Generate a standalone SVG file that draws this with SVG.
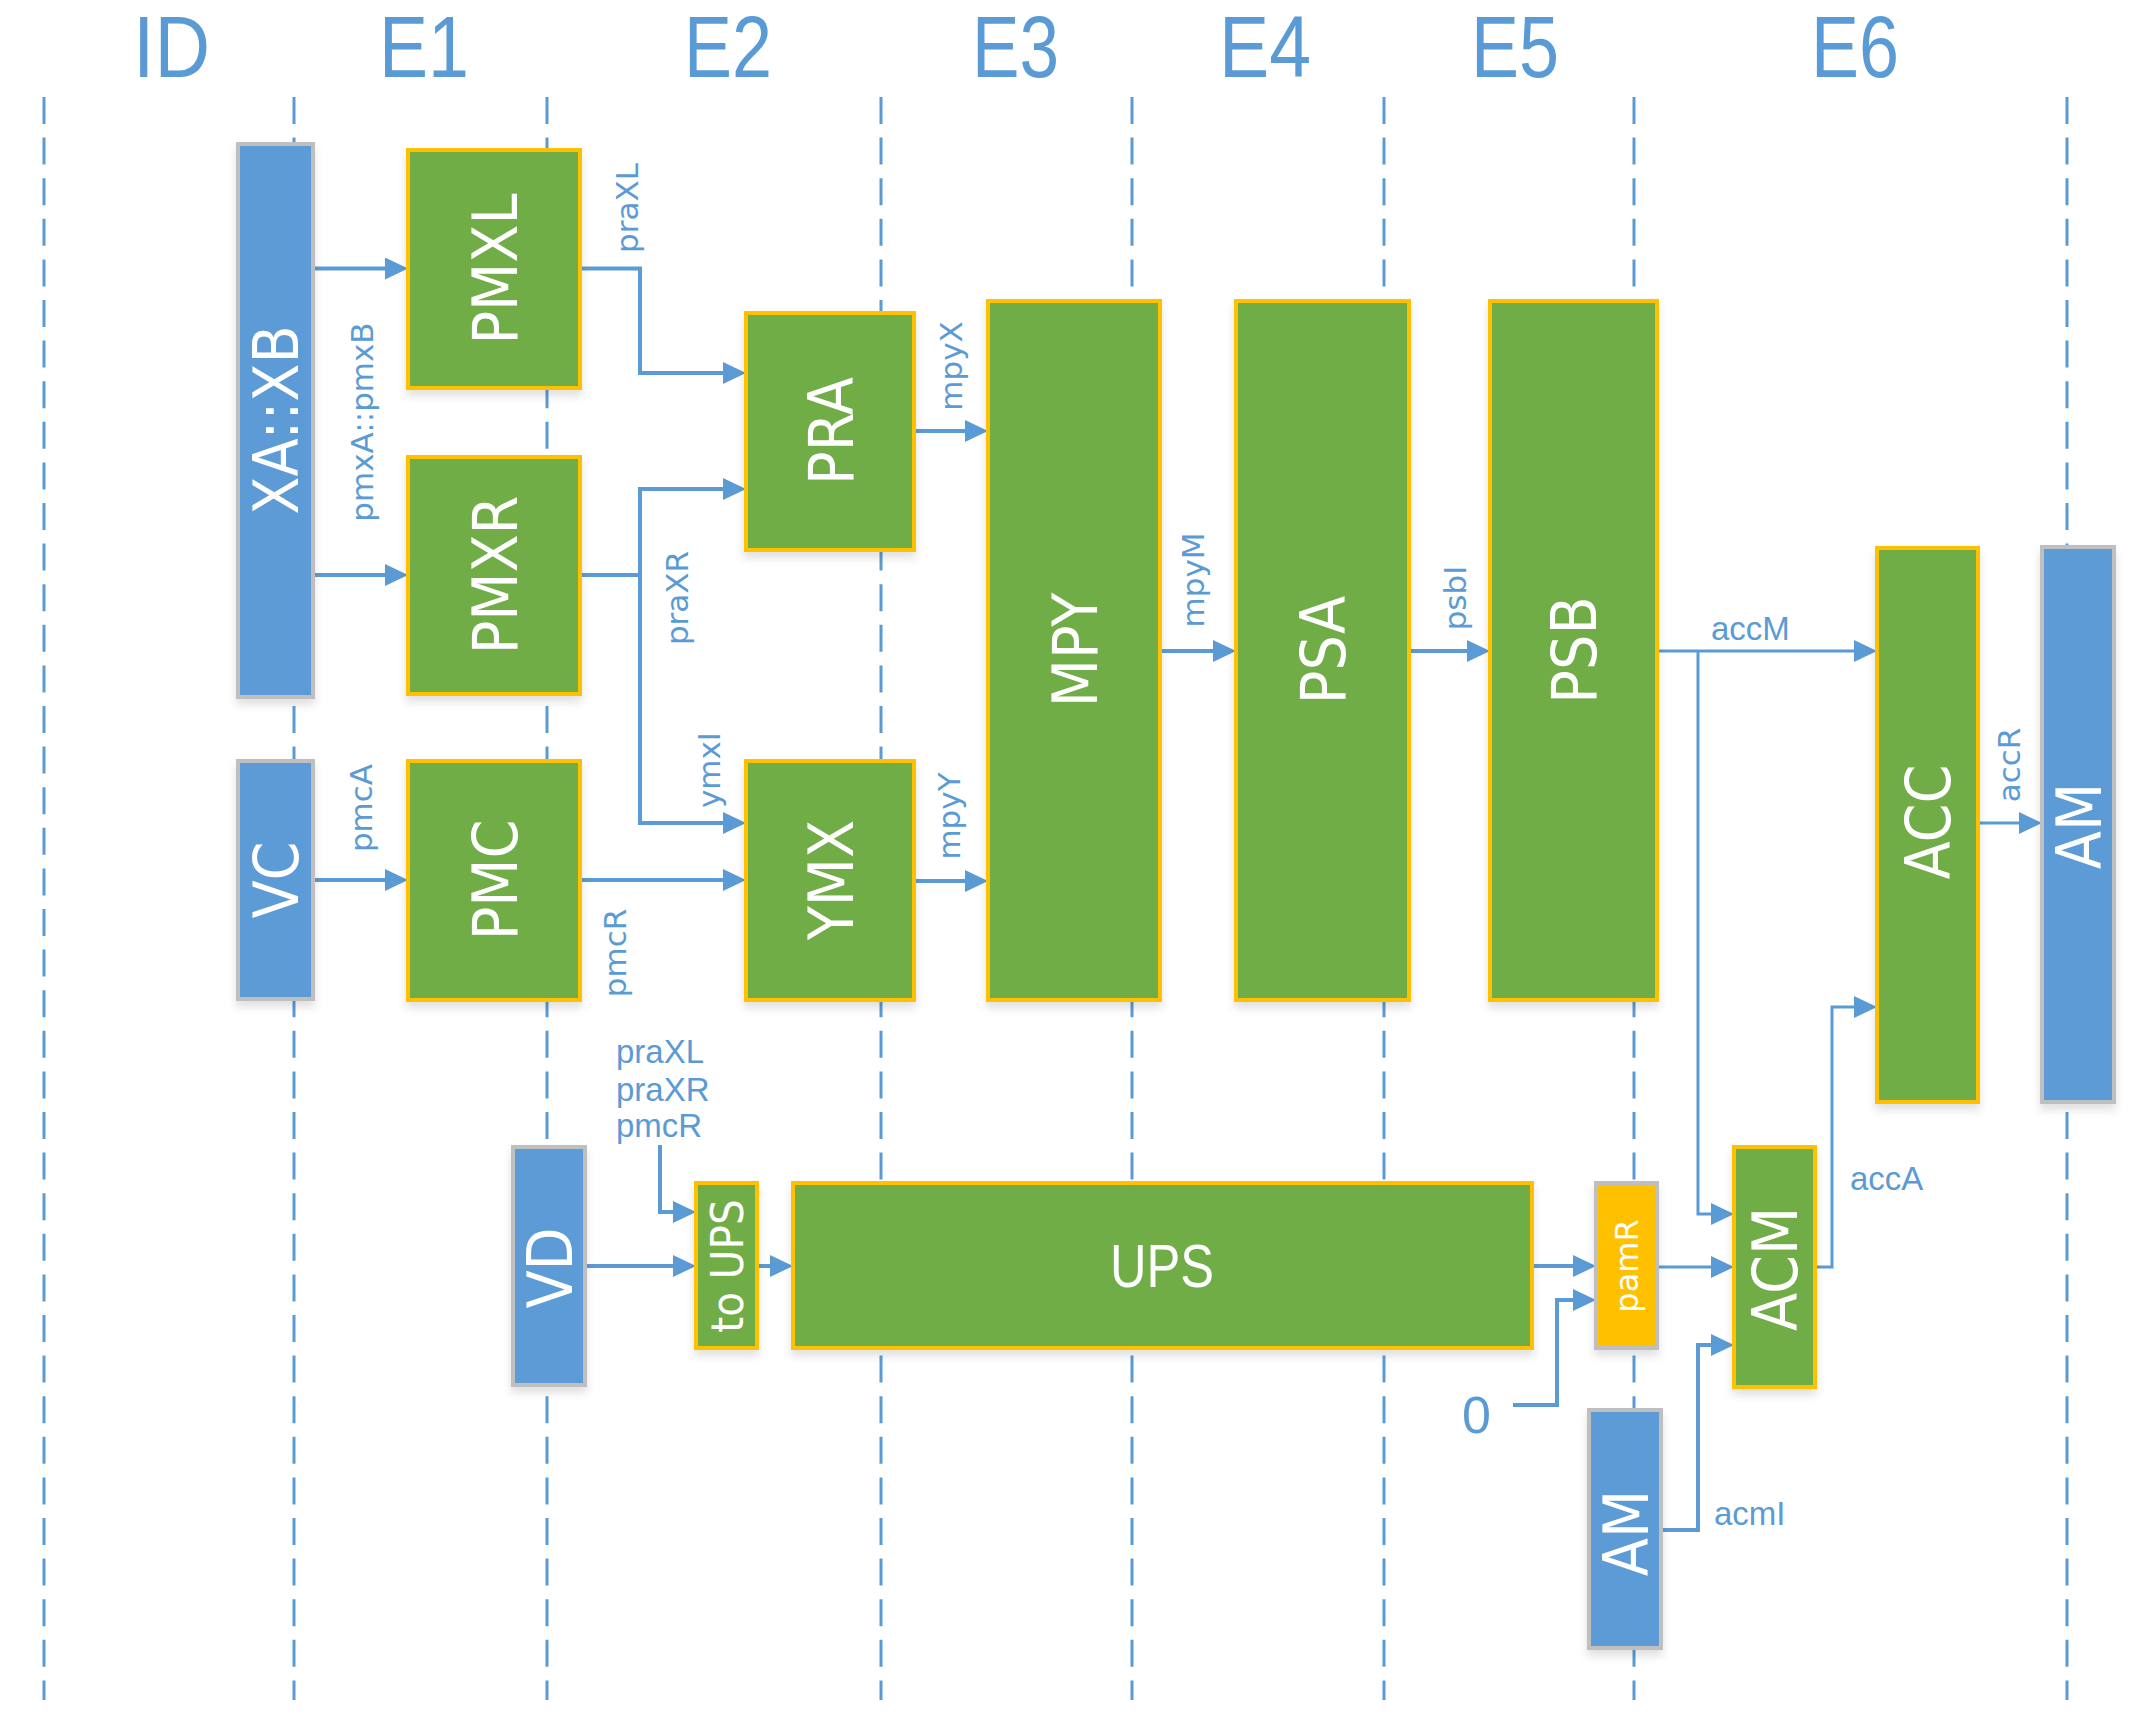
<svg xmlns="http://www.w3.org/2000/svg" width="2146" height="1730" viewBox="0 0 2146 1730">
<style>
.bg{fill:#FFFFFF}
.lane{stroke:#5B9BD5;stroke-width:3;stroke-dasharray:27 13.6;fill:none}
.hdr{fill:#5B9BD5;font-family:"Liberation Sans",Arial,sans-serif;font-size:88px;text-anchor:middle}
.blue{fill:#5B9BD5;stroke:#BFBFBF;stroke-width:4}
.green{fill:#70AD47;stroke:#FFC000;stroke-width:4}
.orange{fill:#FFC000;stroke:#BFBFBF;stroke-width:4}
.node rect{filter:url(#sh)}
.nl{fill:#FFFFFF;font-family:"DejaVu Sans",Verdana,sans-serif;font-stretch:condensed;font-size:62px;text-anchor:middle}
.nls{fill:#FFFFFF;font-family:"DejaVu Sans",Verdana,sans-serif;font-stretch:condensed;font-size:45px;text-anchor:middle}
.nlx{fill:#FFFFFF;font-family:"DejaVu Sans",Verdana,sans-serif;font-size:32px;text-anchor:middle}
.lbl{fill:#5B9BD5;font-family:"DejaVu Sans",Verdana,sans-serif;font-size:31px;text-anchor:middle}
.lbh{fill:#5B9BD5;font-family:"Liberation Sans",Arial,sans-serif;font-size:33px}
.conn path{stroke:#5B9BD5;stroke-width:4;fill:none}
.conn path.thin{stroke-width:3}
</style>
<defs>
<marker id="arr" markerUnits="userSpaceOnUse" markerWidth="24" markerHeight="24" refX="13" refY="11" orient="auto">
<path d="M0,0 L23,11 L0,22 Z" fill="#5B9BD5"/>
</marker>
<filter id="sh" x="-20%" y="-10%" width="140%" height="125%">
<feDropShadow dx="0" dy="6" stdDeviation="4" flood-color="#000000" flood-opacity="0.12"/>
</filter>
</defs>
<rect class="bg" x="0" y="0" width="2146" height="1730"/>

<g id="headers">
<text class="hdr" x="171.5" y="77" textLength="77" lengthAdjust="spacingAndGlyphs">ID</text>
<text class="hdr" x="424" y="77" textLength="90" lengthAdjust="spacingAndGlyphs">E1</text>
<text class="hdr" x="728" y="77" textLength="88" lengthAdjust="spacingAndGlyphs">E2</text>
<text class="hdr" x="1015.5" y="77" textLength="87" lengthAdjust="spacingAndGlyphs">E3</text>
<text class="hdr" x="1265" y="77" textLength="92" lengthAdjust="spacingAndGlyphs">E4</text>
<text class="hdr" x="1515" y="77" textLength="88" lengthAdjust="spacingAndGlyphs">E5</text>
<text class="hdr" x="1855" y="77" textLength="88" lengthAdjust="spacingAndGlyphs">E6</text>
</g>

<g id="lanes">
<line class="lane" x1="44" y1="97" x2="44" y2="1700"/>
<line class="lane" x1="294" y1="97" x2="294" y2="1700"/>
<line class="lane" x1="547" y1="97" x2="547" y2="1700"/>
<line class="lane" x1="881" y1="97" x2="881" y2="1700"/>
<line class="lane" x1="1132" y1="97" x2="1132" y2="1700"/>
<line class="lane" x1="1384" y1="97" x2="1384" y2="1700"/>
<line class="lane" x1="1634" y1="97" x2="1634" y2="1700"/>
<line class="lane" x1="2067" y1="97" x2="2067" y2="1700"/>
</g>

<g id="connectors" class="conn">
<path d="M313,268.5 H398" marker-end="url(#arr)"/>
<path d="M313,575 H398" marker-end="url(#arr)"/>
<path d="M580,268.5 H640 V373 H736" marker-end="url(#arr)"/>
<path d="M580,575 H640"/>
<path d="M640,575 V489 H736" marker-end="url(#arr)"/>
<path d="M640,575 V823 H736" marker-end="url(#arr)"/>
<path d="M313,880 H398" marker-end="url(#arr)"/>
<path d="M580,880 H736" marker-end="url(#arr)"/>
<path d="M914,431 H978" marker-end="url(#arr)"/>
<path d="M914,881 H978" marker-end="url(#arr)"/>
<path d="M1160,651 H1226" marker-end="url(#arr)"/>
<path d="M1409,651 H1480" marker-end="url(#arr)"/>
<path class="thin" d="M1657,651 H1867" marker-end="url(#arr)"/>
<path class="thin" d="M1698,651 V1214 H1724" marker-end="url(#arr)"/>
<path class="thin" d="M1978,823 H2032" marker-end="url(#arr)"/>
<path d="M585,1266 H686" marker-end="url(#arr)"/>
<path d="M660,1145 V1212 H686" marker-end="url(#arr)"/>
<path d="M757,1266 H783" marker-end="url(#arr)"/>
<path d="M1532,1266 H1586" marker-end="url(#arr)"/>
<path d="M1513,1405 H1557 V1300 H1586" marker-end="url(#arr)"/>
<path class="thin" d="M1657,1267 H1724" marker-end="url(#arr)"/>
<path d="M1661,1530 H1698 V1345 H1724" marker-end="url(#arr)"/>
<path class="thin" d="M1815,1267 H1832 V1007 H1867" marker-end="url(#arr)"/>
</g>

<g id="labels">
<text class="lbl" transform="translate(638,208) rotate(-90)">praXL</text>
<text class="lbl" transform="translate(373,422) rotate(-90)">pmxA::pmxB</text>
<text class="lbl" transform="translate(688,598) rotate(-90)">praXR</text>
<text class="lbl" transform="translate(962,366) rotate(-90)">mpyX</text>
<text class="lbl" transform="translate(960,816) rotate(-90)">mpyY</text>
<text class="lbl" transform="translate(1204,580) rotate(-90)">mpyM</text>
<text class="lbl" transform="translate(1466,598) rotate(-90)">psbI</text>
<text class="lbl" transform="translate(2020,765) rotate(-90)">accR</text>
<text class="lbl" transform="translate(372,808) rotate(-90)">pmcA</text>
<text class="lbl" transform="translate(720,770) rotate(-90)">ymxI</text>
<text class="lbl" transform="translate(626,953) rotate(-90)">pmcR</text>
<text class="lbh" x="1711" y="640">accM</text>
<text class="lbh" x="616" y="1063">praXL</text>
<text class="lbh" x="616" y="1101">praXR</text>
<text class="lbh" x="616" y="1137">pmcR</text>
<text class="lbh" x="1462" y="1433" style="font-size:52px">0</text>
<text class="lbh" x="1850" y="1190">accA</text>
<text class="lbh" x="1714" y="1525">acmI</text>
</g>

<g id="XA_XB" class="node"><rect class="blue" x="238" y="144" width="75" height="553"/><text class="nl" transform="translate(275.5,420) rotate(-90)" y="22.6">XA::XB</text></g>
<g id="PMXL" class="node"><rect class="green" x="408" y="150" width="172" height="238"/><text class="nl" transform="translate(494,269) rotate(-90)" y="22.6">PMXL</text></g>
<g id="PMXR" class="node"><rect class="green" x="408" y="457" width="172" height="237"/><text class="nl" transform="translate(494,575) rotate(-90)" y="22.6">PMXR</text></g>
<g id="PRA" class="node"><rect class="green" x="746" y="313" width="168" height="237"/><text class="nl" transform="translate(830,431) rotate(-90)" y="22.6">PRA</text></g>
<g id="VC" class="node"><rect class="blue" x="238" y="761" width="75" height="238"/><text class="nl" transform="translate(275.5,880) rotate(-90)" y="22.6">VC</text></g>
<g id="PMC" class="node"><rect class="green" x="408" y="761" width="172" height="239"/><text class="nl" transform="translate(494,880) rotate(-90)" y="22.6">PMC</text></g>
<g id="YMX" class="node"><rect class="green" x="746" y="761" width="168" height="239"/><text class="nl" transform="translate(830,880) rotate(-90)" y="22.6">YMX</text></g>
<g id="MPY" class="node"><rect class="green" x="988" y="301" width="172" height="699"/><text class="nl" transform="translate(1074,650) rotate(-90)" y="22.6">MPY</text></g>
<g id="PSA" class="node"><rect class="green" x="1236" y="301" width="173" height="699"/><text class="nl" transform="translate(1322.5,650) rotate(-90)" y="22.6">PSA</text></g>
<g id="PSB" class="node"><rect class="green" x="1490" y="301" width="167" height="699"/><text class="nl" transform="translate(1573.5,650) rotate(-90)" y="22.6">PSB</text></g>
<g id="ACC" class="node"><rect class="green" x="1877" y="548" width="101" height="554"/><text class="nl" transform="translate(1927.5,822) rotate(-90)" y="22.6">ACC</text></g>
<g id="AM_right" class="node"><rect class="blue" x="2042" y="547" width="72" height="555"/><text class="nl" transform="translate(2078,826) rotate(-90)" y="22.6">AM</text></g>
<g id="VD" class="node"><rect class="blue" x="513" y="1147" width="72" height="238"/><text class="nl" transform="translate(549,1268) rotate(-90)" y="22.6">VD</text></g>
<g id="to_UPS" class="node"><rect class="green" x="696" y="1183" width="61" height="165"/><text class="nls" transform="translate(726.5,1266) rotate(-90)" y="16.4">to UPS</text></g>
<g id="UPS" class="node"><rect class="green" x="793" y="1183" width="739" height="165"/><text x="1162" y="1287" textLength="104" lengthAdjust="spacingAndGlyphs" style="fill:#FFFFFF;font-family:'Liberation Sans',Arial,sans-serif;font-size:61px;text-anchor:middle">UPS</text></g>
<g id="pamR" class="node"><rect class="orange" x="1596" y="1183" width="61" height="165"/><text class="nlx" transform="translate(1626.5,1266) rotate(-90)" y="11.7">pamR</text></g>
<g id="ACM" class="node"><rect class="green" x="1734" y="1147" width="81" height="240"/><text class="nl" transform="translate(1774.5,1269) rotate(-90)" y="22.6">ACM</text></g>
<g id="AM_bottom" class="node"><rect class="blue" x="1589" y="1410" width="72" height="238"/><text class="nl" transform="translate(1625,1533) rotate(-90)" y="22.6">AM</text></g>
</svg>
